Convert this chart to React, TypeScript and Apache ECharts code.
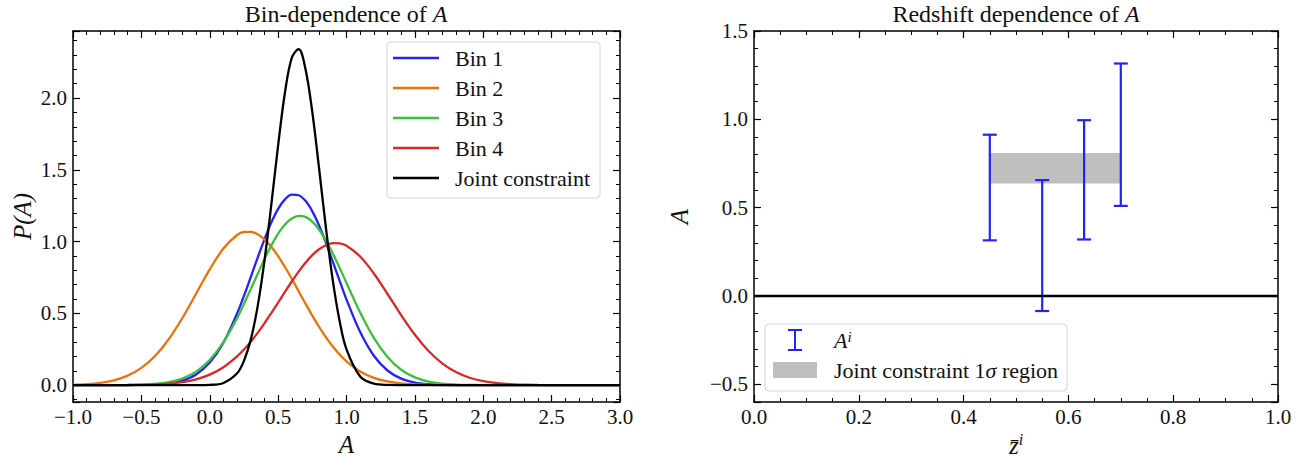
import React, { useEffect, useRef } from 'react';
import * as echarts from 'echarts';

// ---------- Left panel data: P(A) curves ----------
const aGrid = [
  -1.0, -0.9, -0.8, -0.7, -0.6, -0.5, -0.4, -0.3, -0.2, -0.1, 0.0, 0.1, 0.2,
  0.25, 0.3, 0.35, 0.4, 0.45, 0.5, 0.55, 0.6, 0.65, 0.7, 0.75, 0.8, 0.85, 0.9, 0.95,
  1.0, 1.1, 1.2, 1.3, 1.4, 1.5, 1.6, 1.7, 1.8, 1.9, 2.0, 2.1, 2.2, 2.3, 2.4, 2.5, 2.6, 2.7, 2.8, 2.9, 3.0,
];
const bin1 = [
  0, 0, 0, 0.0001, 0.0003, 0.0013, 0.0041, 0.0121, 0.0317, 0.0747, 0.157, 0.296, 0.499,
  0.622, 0.753, 0.887, 1.016, 1.133, 1.228, 1.294, 1.327, 1.323, 1.284, 1.211, 1.111, 0.991, 0.86, 0.726,
  0.596, 0.37, 0.205, 0.102, 0.0453, 0.018, 0.0064, 0.002, 0.0006, 0.0001, 0, 0, 0, 0, 0, 0, 0, 0, 0, 0, 0,
];
const bin2 = [
  0.003, 0.0072, 0.0162, 0.0339, 0.0662, 0.12, 0.203, 0.32, 0.468, 0.637, 0.807, 0.952, 1.046,
  1.067, 1.068, 1.051, 1.016, 0.964, 0.899, 0.823, 0.741, 0.654, 0.568, 0.484, 0.405, 0.333, 0.269, 0.213,
  0.166, 0.0955, 0.0511, 0.0255, 0.0118, 0.0051, 0.002, 0.0008, 0.0003, 0.0001, 0, 0, 0, 0, 0, 0, 0, 0, 0, 0, 0,
];
const bin3 = [
  0, 0, 0.0001, 0.0004, 0.0011, 0.0033, 0.0086, 0.0209, 0.0464, 0.0942, 0.175, 0.299, 0.467,
  0.565, 0.669, 0.775, 0.878, 0.973, 1.055, 1.119, 1.161, 1.18, 1.172, 1.139, 1.083, 1.008, 0.917, 0.817,
  0.712, 0.506, 0.329, 0.196, 0.107, 0.0538, 0.0247, 0.0104, 0.004, 0.0014, 0.0005, 0.0001, 0, 0, 0, 0, 0, 0, 0, 0, 0,
];
const bin4 = [
  0, 0, 0.0001, 0.0003, 0.0008, 0.002, 0.0046, 0.0101, 0.0208, 0.0402, 0.0731, 0.125, 0.201,
  0.248, 0.303, 0.364, 0.431, 0.502, 0.575, 0.65, 0.722, 0.791, 0.853, 0.906, 0.947, 0.975, 0.989, 0.987,
  0.971, 0.896, 0.778, 0.635, 0.487, 0.351, 0.238, 0.152, 0.0913, 0.0515, 0.0273, 0.0136, 0.0064, 0.0028, 0.0012, 0.0005, 0.0002, 0.0001, 0, 0, 0,
];
const joint = [
  0, 0, 0, 0, 0, 0, 0, 0, 0, 0.0002, 0.002, 0.0151, 0.0823,
  0.169, 0.317, 0.547, 0.866, 1.256, 1.671, 2.039, 2.281, 2.341, 2.203, 1.902, 1.506, 1.093, 0.728, 0.445,
  0.249, 0.0603, 0.0103, 0.0013, 0.0001, 0, 0, 0, 0, 0, 0, 0, 0, 0, 0, 0, 0, 0, 0, 0, 0,
];
const curveNames = ['Bin 1', 'Bin 2', 'Bin 3', 'Bin 4', 'Joint constraint'];

// ---------- Right panel data ----------
const zBar = [0.45, 0.55, 0.63, 0.7];
const aLower = [0.315, -0.085, 0.32, 0.51];
const aUpper = [0.913, 0.656, 0.995, 1.316];
const bandZ = [0.45, 0.7];
const bandA = [0.637, 0.809];
const zeroLine = [0, 1];

const FONT = "'Liberation Serif', 'DejaVu Serif', serif";
const TXT = '#111111';
const colors = ['#2424f2', '#e8720c', '#3cbf3c', '#d42a2a', '#000000'];
const barBlue = '#2424f2';
const bandGray = '#bfbfbf';

const fmtHalf = (v: number) =>
  Math.abs(v * 2 - Math.round(v * 2)) > 1e-6 ? '' : v.toFixed(1).replace('-', '\u2212');
const fmt1 = (v: number) => v.toFixed(1).replace('-', '\u2212');

function axisBase(extra: any) {
  return {
    type: 'value',
    axisLine: { show: true, onZero: false, lineStyle: { color: '#000', width: 1.5 } },
    axisTick: { show: true, inside: true, length: 7, lineStyle: { color: '#000', width: 1.2 } },
    minorTick: { show: true, splitNumber: 5, length: 4, lineStyle: { color: '#000', width: 1 } },
    splitLine: { show: false },
    minorSplitLine: { show: false },
    ...extra,
  };
}

export default function App() {
  const ref = useRef<HTMLDivElement>(null);
  useEffect(() => {
    if (!ref.current) return;
    const chart = echarts.init(ref.current, null, { renderer: 'svg' });
    const labelStyle = { color: TXT, fontFamily: FONT, fontSize: 21 };
    const italic = { fontStyle: 'italic', fontFamily: FONT, fontSize: 25, color: TXT };

    const xAxes = [
      axisBase({
        gridIndex: 0, min: -1, max: 3, interval: 0.5, position: 'bottom',
        axisLabel: { ...labelStyle, margin: 4, formatter: fmt1 },
        name: '{i|A}', nameLocation: 'middle', nameGap: 27,
        nameTextStyle: { rich: { i: italic } },
      }),
      axisBase({ gridIndex: 0, min: -1, max: 3, interval: 0.5, position: 'top', axisLabel: { show: false } }),
      axisBase({
        gridIndex: 1, min: 0, max: 1, interval: 0.2, position: 'bottom',
        minorTick: { show: true, splitNumber: 4, length: 4, lineStyle: { color: '#000', width: 1 } },
        axisLabel: { ...labelStyle, margin: 4, formatter: fmt1 },
        name: '{z|z\u0304}{s|i}', nameLocation: 'middle', nameGap: 26,
        nameTextStyle: {
          rich: {
            z: { ...italic, lineHeight: 28 },
            s: { fontStyle: 'italic', fontFamily: FONT, fontSize: 16, color: TXT, verticalAlign: 'top' },
          },
        },
      }),
      axisBase({
        gridIndex: 1, min: 0, max: 1, interval: 0.2, position: 'top', axisLabel: { show: false },
        minorTick: { show: true, splitNumber: 4, length: 4, lineStyle: { color: '#000', width: 1 } },
      }),
    ];
    const yAxes = [
      axisBase({
        gridIndex: 0, min: -0.1175, max: 2.4675, position: 'left',
        axisLabel: { ...labelStyle, margin: 6, formatter: fmtHalf },
        name: '{i|P}(A)', nameLocation: 'middle', nameGap: 38,
        nameTextStyle: { fontFamily: FONT, fontSize: 25, fontStyle: 'italic', color: TXT, rich: { i: italic } },
      }),
      axisBase({ gridIndex: 0, min: -0.1175, max: 2.4675, position: 'right', axisLabel: { show: false } }),
      axisBase({
        gridIndex: 1, min: -0.6, max: 1.5, position: 'left',
        axisLabel: { ...labelStyle, margin: 6, formatter: fmtHalf },
        name: '{i|A}', nameLocation: 'middle', nameGap: 62,
        nameTextStyle: { rich: { i: italic } },
      }),
      axisBase({ gridIndex: 1, min: -0.6, max: 1.5, position: 'right', axisLabel: { show: false } }),
    ];

    const curves = [bin1, bin2, bin3, bin4, joint];
    const lineSeries = curves.map((vals, k) => ({
      type: 'line',
      name: curveNames[k],
      xAxisIndex: 0,
      yAxisIndex: 0,
      data: aGrid.map((x, i) => [x, vals[i]]),
      smooth: 0.35,
      showSymbol: false,
      symbol: 'none',
      color: colors[k],
      itemStyle: { color: colors[k] },
      lineStyle: { color: colors[k], width: 2.3 },
      z: 2 + k,
    }));

    const titleRich = { i: { fontStyle: 'italic', fontFamily: FONT, fontSize: 24, fill: TXT, color: TXT } };
    const option: any = {
      animation: false,
      backgroundColor: '#ffffff',
      grid: [
        { left: 73, top: 31, width: 547, height: 371, outerBoundsMode: 'none', containLabel: false },
        { left: 754, top: 31, width: 524, height: 371, outerBoundsMode: 'none', containLabel: false },
      ],
      xAxis: xAxes,
      yAxis: yAxes,
      graphic: [
        {
          type: 'text', x: 346, y: 14,
          style: {
            text: 'Bin-dependence of {i|A}', align: 'center', verticalAlign: 'middle',
            fontFamily: FONT, fontSize: 24, fill: TXT, rich: titleRich,
          },
        },
        {
          type: 'text', x: 1016, y: 14,
          style: {
            text: 'Redshift dependence of {i|A}', align: 'center', verticalAlign: 'middle',
            fontFamily: FONT, fontSize: 24, fill: TXT, rich: titleRich,
          },
        },
      ],
      legend: [
        {
          orient: 'vertical', left: 387, top: 42,
          data: curveNames,
          icon: 'path://M0,0H46V2.4H0Z',
          itemWidth: 46, itemHeight: 2.4, itemGap: 8,
          selectedMode: false,
          padding: [5, 10, 9, 6],
          backgroundColor: 'rgba(255,255,255,0.85)',
          borderColor: '#d4d4d4', borderWidth: 1, borderRadius: 4,
          textStyle: { fontFamily: FONT, fontSize: 22, color: TXT, lineHeight: 22, padding: [0, 0, 0, 11] },
        },
        {
          orient: 'vertical', left: 765, top: 324,
          data: [
            { name: 'Ai', icon: 'path://M15,0H29V2H23V20H29V22H15V20H21V2H15Z' },
            { name: 'band', icon: 'path://M0,3H44V19H0Z' },
          ],
          symbolKeepAspect: true,
          itemWidth: 44, itemHeight: 22, itemGap: 8,
          selectedMode: false,
          padding: [5, 9, 10, 8],
          backgroundColor: 'rgba(255,255,255,0.85)',
          borderColor: '#d4d4d4', borderWidth: 1, borderRadius: 4,
          formatter: (name: string) =>
            name === 'Ai' ? '{i|A}{s|i}' : 'Joint constraint 1{g|\u03c3} region',
          textStyle: {
            fontFamily: FONT, fontSize: 22, color: TXT, lineHeight: 22, padding: [0, 0, 0, 12],
            rich: {
              i: { fontStyle: 'italic', fontFamily: FONT, fontSize: 22, color: TXT },
              s: { fontStyle: 'italic', fontFamily: FONT, fontSize: 15, color: TXT, verticalAlign: 'top' },
              g: { fontStyle: 'italic', fontFamily: FONT, fontSize: 22, color: TXT },
            },
          },
        },
      ],
      series: [
        ...lineSeries,
        {
          type: 'custom',
          name: 'band',
          xAxisIndex: 2,
          yAxisIndex: 2,
          itemStyle: { color: bandGray },
          encode: { x: [0, 1], y: [2, 3] },
          data: [[bandZ[0], bandZ[1], bandA[0], bandA[1]]],
          renderItem: (params: any, api: any) => {
            const p0 = api.coord([api.value(0), api.value(3)]);
            const p1 = api.coord([api.value(1), api.value(2)]);
            return {
              type: 'rect',
              shape: { x: p0[0], y: p0[1], width: p1[0] - p0[0], height: p1[1] - p0[1] },
              style: { fill: bandGray },
            };
          },
          z: 2,
        },
        {
          type: 'custom',
          name: 'Ai',
          xAxisIndex: 2,
          yAxisIndex: 2,
          itemStyle: { color: barBlue },
          encode: { x: 0, y: [1, 2] },
          data: zBar.map((z, i) => [z, aLower[i], aUpper[i]]),
          renderItem: (params: any, api: any) => {
            const lo = api.coord([api.value(0), api.value(1)]);
            const hi = api.coord([api.value(0), api.value(2)]);
            const w = 7;
            const style = { stroke: barBlue, lineWidth: 2.2, fill: null };
            return {
              type: 'group',
              children: [
                { type: 'line', shape: { x1: lo[0], y1: lo[1], x2: hi[0], y2: hi[1] }, style },
                { type: 'line', shape: { x1: lo[0] - w, y1: lo[1], x2: lo[0] + w, y2: lo[1] }, style },
                { type: 'line', shape: { x1: hi[0] - w, y1: hi[1], x2: hi[0] + w, y2: hi[1] }, style },
              ],
            };
          },
          z: 3,
        },
        {
          type: 'line',
          name: 'zero',
          xAxisIndex: 2,
          yAxisIndex: 2,
          data: zeroLine.map((z) => [z, 0]),
          showSymbol: false,
          symbol: 'none',
          lineStyle: { color: '#000', width: 2.3 },
          itemStyle: { color: '#000' },
          z: 4,
        },
      ],
    };
    chart.setOption(option);
    return () => chart.dispose();
  }, []);
  return (
    <div
      ref={ref}
      style={{ position: 'fixed', left: 0, top: 0, width: 1306, height: 458, background: '#fff' }}
    />
  );
}
